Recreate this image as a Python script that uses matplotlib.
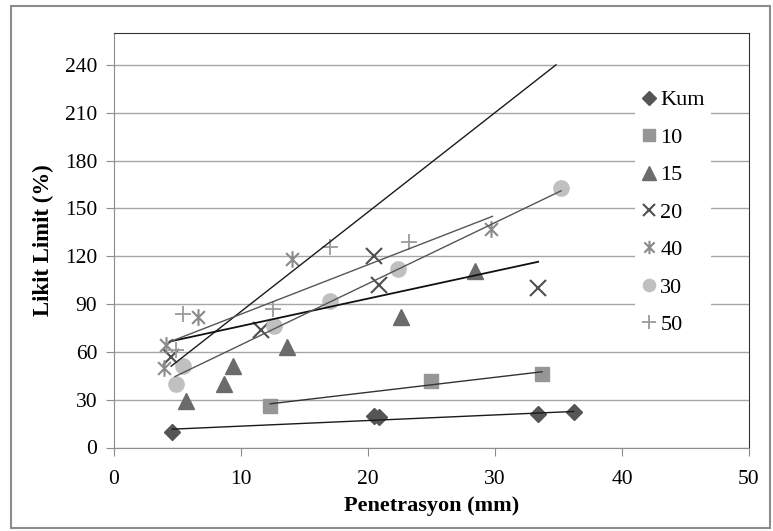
import matplotlib
matplotlib.use("Agg")
import matplotlib.pyplot as plt
from matplotlib.path import Path
from matplotlib.patches import Rectangle

plt.rcParams['font.family'] = ['Liberation Serif', 'DejaVu Serif']

# values
kum_x = [4.6, 20.5, 20.9, 33.4, 36.2]
kum_y = [10, 20, 19, 21, 22]
s10_x = [12.3, 25.0, 33.7]
s10_y = [26, 42, 46]
s15_x = [5.7, 8.7, 9.4, 13.6, 22.6, 28.4]
s15_y = [29, 40, 51, 63, 82, 111]
s20_x = [4.5, 11.6, 20.5, 20.9, 33.4]
s20_y = [57, 74, 120, 102, 100]
s40_x = [3.9, 4.1, 6.6, 14.0, 29.7]
s40_y = [50, 64, 82, 118, 137]
s30_x = [4.9, 5.4, 12.6, 17.0, 22.4, 35.2]
s30_y = [40, 51, 76, 92, 112, 163]
s50_x = [4.9, 5.4, 12.5, 17.0, 23.2]
s50_y = [61, 84, 87, 126, 129]

# trend lines as drawn in the reference (start x, start y, end x, end y)
trend_x0 = [4.6, 12.3, 4.5, 4.4, 4.3, 4.8]
trend_y0 = [11.5, 27.4, 51, 66.5, 66, 44.5]
trend_x1 = [36.2, 33.7, 34.8, 33.4, 29.8, 35.2]
trend_y1 = [22.6, 47.5, 240, 116.5, 145, 161]
trend_colors = ['#1a1a1a', '#333333', '#1a1a1a', '#111111', '#555555', '#555555']
trend_widths = [1.0, 1.0, 1.0, 1.3, 1.0, 1.0]

labels = ['Kum', '10', '15', '20', '40', '30', '50']

# Excel style star: x with a vertical bar
star = Path([(-1, -1), (1, 1), (-1, 1), (1, -1), (0, -1.3), (0, 1.3)],
            [Path.MOVETO, Path.LINETO, Path.MOVETO, Path.LINETO, Path.MOVETO, Path.LINETO])

fig = plt.figure(figsize=(7.73, 5.31), dpi=100)
ax = fig.add_axes([114 / 773, 1 - 447.5 / 531, 635 / 773, 414.5 / 531])

fig.patches.append(Rectangle((0.014, 0.006), 0.982, 0.983, transform=fig.transFigure,
                             fill=False, edgecolor='#8c8c8c', linewidth=1.5))

ax.plot(kum_x, kum_y, ls='none', marker='D', ms=8.5, color='#555555', label=labels[0], zorder=2)
ax.plot(s10_x, s10_y, ls='none', marker='s', ms=10, color='#969696', label=labels[1], zorder=2)
ax.plot(s15_x, s15_y, ls='none', marker='^', ms=12, color='#6b6b6b', label=labels[2], zorder=2)
ax.plot(s20_x, s20_y, ls='none', marker='x', ms=11, mew=1.5, color='#4f4f4f', label=labels[3], zorder=2)
ax.plot(s40_x, s40_y, ls='none', marker=star, ms=12, mew=1.5, color='#8a8a8a', fillstyle='none',
        label=labels[4], zorder=2)
ax.plot(s30_x, s30_y, ls='none', marker='o', ms=11, color='#c0c0c0', label=labels[5], zorder=2)
ax.plot(s50_x, s50_y, ls='none', marker='+', ms=12, mew=1.3, color='#9a9a9a', label=labels[6], zorder=2)

for i in range(len(trend_x0)):
    ax.plot([trend_x0[i], trend_x1[i]], [trend_y0[i], trend_y1[i]],
            color=trend_colors[i], lw=trend_widths[i], zorder=3)

ax.set_xlim(0, 50)
ax.set_ylim(0, 260)
ax.set_xticks(range(0, 51, 10))
ax.set_yticks(range(0, 241, 30))
ax.yaxis.grid(True, color='#a6a6a6', lw=1)
ax.set_axisbelow(True)

for side in ['left', 'bottom']:
    ax.spines[side].set_color('#8c8c8c')
for side in ['top', 'right']:
    ax.spines[side].set_color('#333333')
ax.tick_params(axis='both', direction='out', length=6, color='#8c8c8c',
               labelsize=15.5)
ax.tick_params(axis='x', pad=10)
ax.tick_params(axis='y', pad=6)

ax.set_xlabel('Penetrasyon (mm)', fontsize=16, fontweight='bold', labelpad=5)
ax.set_ylabel('Likit Limit (%)', fontsize=16.5, fontweight='bold', labelpad=8)

leg = ax.legend(loc='center left', bbox_to_anchor=(0.82, 0.567), fontsize=16,
                frameon=True, facecolor='white', edgecolor='none', framealpha=1,
                borderpad=0.3, labelspacing=0.76, handlelength=0.7, handletextpad=0.15,
                borderaxespad=0, numpoints=1, markerscale=0.8)
leg.set_zorder(5)

fig.savefig('out.png', dpi=100)
